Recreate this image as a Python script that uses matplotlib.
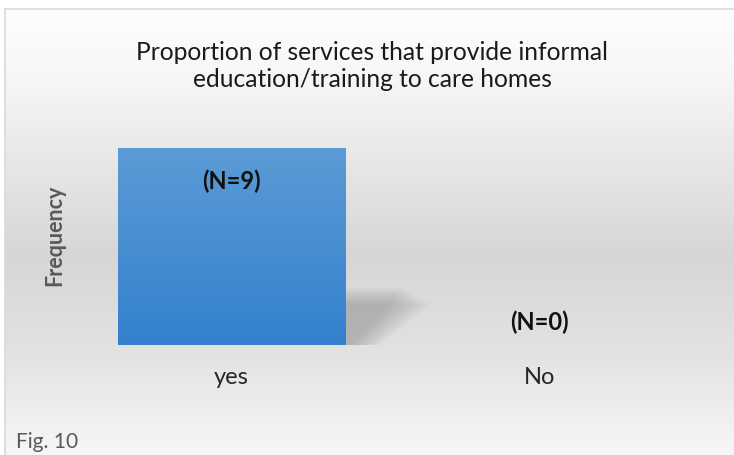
import numpy as np
import matplotlib
matplotlib.use("Agg")
import matplotlib.pyplot as plt
from matplotlib.colors import LinearSegmentedColormap
from matplotlib.patches import Polygon

categories = ["yes", "No"]
values = [9, 0]
title = "Proportion of services that provide informal\neducation/training to care homes"
ylabel = "Frequency"
caption = "Fig. 10"

W, H = 734, 456
fig = plt.figure(figsize=(W / 100, H / 100), dpi=100)
plt.rcParams['font.family'] = ['Lato', 'DejaVu Sans']

# background box with vertical gradient
bg = fig.add_axes([0, 0, 1, 1])
bg.set_xlim(0, W); bg.set_ylim(H, 0); bg.axis("off")
bg_cmap = LinearSegmentedColormap.from_list(
    "bg", [(0, "#fefefe"), (0.15, "#f6f6f6"), (0.52, "#d6d6d6"), (0.72, "#e2e2e2"), (1.0, "#fdfdfd")])
grad = np.linspace(0, 1, 400).reshape(-1, 1)
bg.imshow(grad, cmap=bg_cmap, extent=[5, W + 10, H + 30, 10], aspect="auto", zorder=0)
bg.set_xlim(0, W); bg.set_ylim(H, 0)
bg.plot([5, W + 5], [10, 10], color="#d9d9d9", lw=1.2, zorder=1)
bg.plot([5, 5], [10, H + 5], color="#d9d9d9", lw=1.2, zorder=1)

# plot axes
left, right = 77 / W, 694 / W
bottom, top = 1 - 346 / H, 1 - 128 / H
ax = fig.add_axes([left, bottom, right - left, top - bottom])
ax.patch.set_alpha(0)
x = np.arange(len(categories))
width = 0.736
ax.set_xlim(-0.5, len(categories) - 0.5)
ax.set_ylim(0, 10)
for s in ax.spines.values():
    s.set_visible(False)
ax.tick_params(length=0, labelleft=False)
ax.set_xticks(x)
ax.set_xticklabels(categories, fontsize=17, color="#262626")
ax.tick_params(axis="x", pad=15)

bar_cmap = LinearSegmentedColormap.from_list("bar", ["#3381cd", "#5b9bd6"])
for xi, v in zip(x, values):
    if v <= 0:
        continue
    x0, x1 = xi - width / 2, xi + width / 2
    # perspective shadow, blurred by layered polygons
    for k in range(10):
        sp = 0.01 * k
        poly = Polygon([(x1, -0.02), (x1, v * 0.29 - sp * 8),
                        (x1 + 0.19 + sp, v * 0.29 - sp * 8),
                        (x1 + 0.02 + sp, -0.02)],
                       closed=True, facecolor="#808080", alpha=0.055, lw=0, zorder=1)
        ax.add_patch(poly)
    grad_b = np.linspace(0, 1, 200).reshape(-1, 1)
    ax.imshow(grad_b, cmap=bar_cmap, extent=[x0, x1, 0, v], origin="lower",
              aspect="auto", zorder=2)

for xi, v in zip(x, values):
    if v > 0:
        ax.text(xi, v - 1.45, f"(N={v})", ha="center", va="center",
                fontsize=17, fontweight="bold", color="#111111", zorder=3)
    else:
        ax.text(xi, v + 1.1, f"(N={v})", ha="center", va="center",
                fontsize=17, fontweight="bold", color="#111111", zorder=3)

fig.text(372 / W, 1 - 66 / H, title, ha="center", va="center",
         fontsize=17.7, color="#1a1a1a", linespacing=1.25)
fig.text(55 / W, 1 - 235 / H, ylabel, rotation=90, ha="center", va="center",
         fontsize=15.5, fontweight="bold", color="#595959")
fig.text(16 / W, 1 - 442 / H, caption, ha="left", va="center",
         fontsize=15.1, color="#595959")

fig.savefig("out.png", dpi=100)
